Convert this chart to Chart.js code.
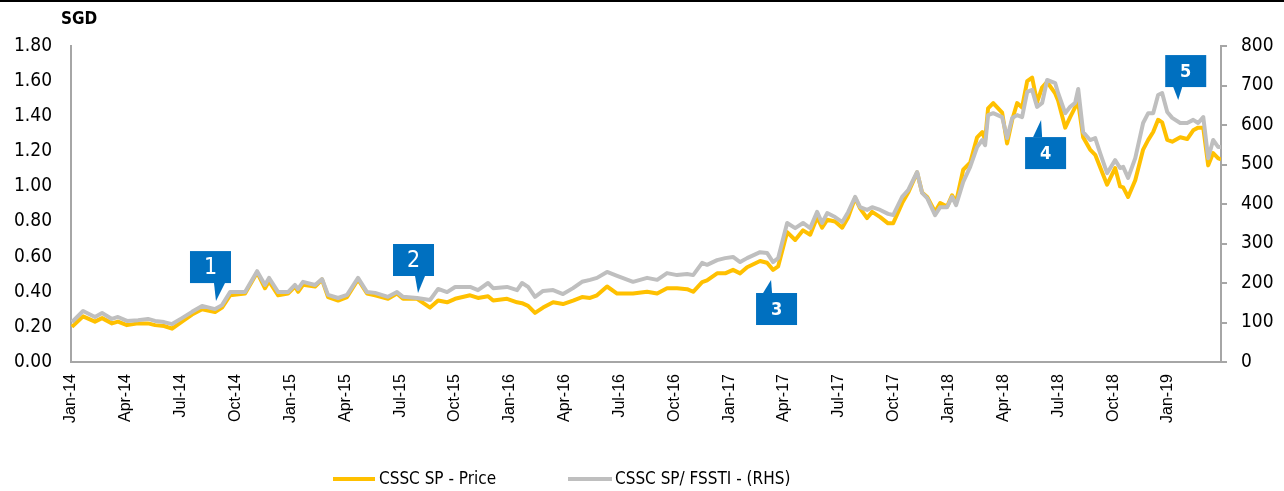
<!DOCTYPE html>
<html>
<head>
<meta charset="utf-8">
<script src="https://cdn.jsdelivr.net/npm/chart.js@4.4.1/dist/chart.umd.min.js"></script>
<style>
body{margin:0;background:#fff;}
#wrap{position:relative;width:1284px;height:491px;overflow:hidden;}
#topline{position:absolute;left:0;top:0;width:1284px;height:2px;background:#000;}
#sgd{position:absolute;left:61px;top:8px;font:bold 17px "DejaVu Sans Condensed","DejaVu Sans";color:#000;}
.ln{position:absolute;height:4px;top:477px;}
.lt{position:absolute;top:468px;font:17px "DejaVu Sans Condensed","DejaVu Sans";color:#000;line-height:20px;white-space:nowrap;}
</style>
</head>
<body>
<div id="wrap">
  <canvas id="myChart" width="1284" height="491"></canvas>
  <div id="topline"></div>
  <div id="sgd">SGD</div>
  <div class="ln" style="left:333px;width:42px;background:#FFC000"></div>
  <div class="lt" style="left:379px">CSSC SP - Price</div>
  <div class="ln" style="left:568px;width:44px;background:#BFBFBF"></div>
  <div class="lt" style="left:615px">CSSC SP/ FSSTI - (RHS)</div>
</div>
<script>
// x = months since Jan-14
var months = [0.05,0.66,1.31,1.70,2.24,2.57,3.06,3.67,4.21,4.60,5.09,5.53,6.07,6.62,7.17,7.88,8.26,8.70,9.52,10.18,
  10.61,10.83,11.33,11.87,12.25,12.42,12.69,13.35,13.73,14.06,14.61,15.10,15.70,16.19,16.63,17.34,17.83,18.16,18.93,19.64,
  20.08,20.57,21.01,21.83,22.26,22.81,23.09,23.85,24.40,24.67,25.00,25.38,25.82,26.37,26.91,27.46,27.95,28.39,28.77,29.32,
  29.87,30.74,31.51,32.06,32.60,33.15,33.70,34.03,34.52,34.79,35.34,35.78,36.21,36.60,36.98,37.69,38.07,38.40,38.68,39.17,
  39.61,40.04,40.43,40.81,41.08,41.36,41.79,42.18,42.51,42.89,43.16,43.54,43.82,44.26,44.69,44.97,45.46,45.79,46.28,46.55,
  46.83,47.26,47.54,47.92,48.19,48.41,48.80,49.18,49.56,49.84,50.00,50.16,50.44,50.93,51.20,51.48,51.75,52.02,52.30,52.57,
  52.84,53.12,53.39,53.83,53.99,54.38,54.65,54.92,55.09,55.36,55.74,56.02,56.29,56.67,57.11,57.38,57.55,57.82,58.21,58.64,
  58.92,59.19,59.46,59.68,59.96,60.23,60.67,61.05,61.38,61.65,61.93,62.20,62.47,62.75,62.90];
var price = [0.20,0.26,0.23,0.25,0.22,0.23,0.21,0.22,0.22,0.21,0.205,0.19,0.23,0.27,0.30,0.285,0.31,0.38,0.39,0.51,
  0.42,0.46,0.38,0.39,0.43,0.40,0.44,0.43,0.47,0.37,0.35,0.37,0.47,0.39,0.38,0.36,0.39,0.36,0.36,0.31,
  0.35,0.34,0.36,0.38,0.365,0.375,0.35,0.36,0.34,0.335,0.32,0.28,0.31,0.34,0.33,0.35,0.37,0.365,0.38,0.43,
  0.39,0.39,0.40,0.39,0.42,0.42,0.415,0.40,0.455,0.465,0.505,0.505,0.525,0.505,0.54,0.575,0.565,0.525,0.545,0.74,
  0.695,0.75,0.725,0.825,0.765,0.81,0.80,0.765,0.825,0.935,0.875,0.82,0.855,0.825,0.79,0.79,0.905,0.965,1.08,0.965,
  0.94,0.855,0.905,0.885,0.95,0.91,1.095,1.135,1.28,1.31,1.265,1.445,1.475,1.42,1.245,1.38,1.475,1.45,1.60,1.62,
  1.48,1.565,1.595,1.53,1.49,1.335,1.395,1.45,1.475,1.28,1.21,1.18,1.11,1.01,1.105,1.00,0.995,0.94,1.035,1.21,
  1.265,1.31,1.38,1.365,1.265,1.255,1.28,1.27,1.32,1.335,1.335,1.12,1.19,1.16,1.155];
var ratio = [101,129,114,124,109,114,104,106,109,104,101,96,111,127,142,134,144,177,177,230,
  195,213,177,177,195,185,203,195,210,170,162,170,213,177,175,165,177,165,162,157,
  185,177,190,190,182,200,187,190,182,200,190,165,180,182,172,187,203,208,213,228,
  218,203,213,208,225,220,223,220,251,246,258,263,266,253,263,278,276,253,263,352,
  339,352,339,380,352,377,367,354,380,418,392,385,392,385,375,372,418,435,481,428,
  415,372,392,392,418,397,456,494,544,562,549,625,630,620,567,618,625,620,684,689,
  646,656,714,706,681,630,646,656,691,582,562,567,529,478,511,491,494,466,516,605,
  630,630,676,681,633,618,605,605,613,605,620,516,562,544,544];
var tickLabels = ['Jan-14','Apr-14','Jul-14','Oct-14','Jan-15','Apr-15','Jul-15','Oct-15','Jan-16','Apr-16','Jul-16',
  'Oct-16','Jan-17','Apr-17','Jul-17','Oct-17','Jan-18','Apr-18','Jul-18','Oct-18','Jan-19'];
var seriesNames = ['CSSC SP - Price', 'CSSC SP/ FSSTI - (RHS)'];

// numbered callouts, anchored at (month, price)
var callouts = [
  {label:'1', month:7.93,  value:0.347, dx:-26, dy:-50, t0:-2, t1:9, bold:false},
  {label:'2', month:18.98, value:0.393, dx:-25, dy:-49, t0:-3, t1:7, bold:false},
  {label:'3', month:38.29, value:0.467, dx:-15, dy:13,  t0:-8, t1:1, bold:true},
  {label:'4', month:53.06, value:1.378, dx:-16, dy:17,  t0:-8, t1:1, bold:true},
  {label:'5', month:60.56, value:1.492, dx:-13, dy:-45, t0:-5, t1:4, bold:true}
];

var calloutPlugin = {
  id: 'callouts',
  afterDatasetsDraw: function(chart){
    var c = chart.ctx, sx = chart.scales.x, sy = chart.scales.y;
    var w = 41, h = 32;
    callouts.forEach(function(o){
      var ax = sx.getPixelForValue(o.month), ay = sy.getPixelForValue(o.value);
      var bx = ax + o.dx, by = ay + o.dy;
      var edge = o.dy < 0 ? by + h : by;
      c.save();
      c.fillStyle = '#0070C0';
      c.fillRect(bx, by, w, h);
      c.beginPath();
      c.moveTo(ax + o.t0, edge);
      c.lineTo(ax + o.t1, edge);
      c.lineTo(ax, ay);
      c.closePath();
      c.fill();
      c.fillStyle = '#fff';
      c.textAlign = 'center';
      c.textBaseline = 'middle';
      c.font = o.bold ? 'bold 18px "DejaVu Sans Condensed"' : '23px "DejaVu Sans Condensed"';
      c.fillText(o.label, bx + w / 2, by + h / 2 + 1);
      c.restore();
    });
  }
};

var ctx = document.getElementById('myChart').getContext('2d');
var chart = new Chart(ctx, {
  type: 'line',
  data: {
    datasets: [{
        label: seriesNames[0],
        data: months.map(function(m, i){ return {x: m, y: price[i]}; }),
        borderColor: '#FFC000',
        borderWidth: 4,
        yAxisID: 'y',
        order: 2
      }, {
        label: seriesNames[1],
        data: months.map(function(m, i){ return {x: m, y: ratio[i]}; }),
        borderColor: '#BFBFBF',
        borderWidth: 4,
        yAxisID: 'y2',
        order: 1
      }]
  },
  options: {
    responsive: false,
    animation: false,
    devicePixelRatio: 1,
    layout: { padding: { top: 46 } },
    elements: { point: { radius: 0 }, line: { tension: 0, borderJoinStyle: 'round' } },
    plugins: { legend: { display: false }, tooltip: { enabled: false } },
    scales: {
      x: {
        type: 'linear', min: 0, max: 62.9,
        afterFit: function(s){ s.height = 129; },
        grid: { display: false, drawTicks: false },
        border: { color: '#A6A6A6', width: 2 },
        ticks: {
          stepSize: 3, includeBounds: false, autoSkip: false,
          minRotation: 90, maxRotation: 90, padding: 12,
          color: '#000', font: { family: 'Liberation Sans', size: 16 },
          callback: function(v){ return tickLabels[Math.round(v / 3)]; }
        }
      },
      y: {
        position: 'left', min: 0, max: 1.8,
        afterFit: function(s){ s.width = 71; },
        grid: { display: false, drawTicks: false },
        border: { color: '#A6A6A6', width: 2 },
        ticks: {
          stepSize: 0.2, padding: 19, color: '#000',
          font: { family: 'DejaVu Sans Condensed', size: 19 },
          callback: function(v){ return v.toFixed(2); }
        }
      },
      y2: {
        position: 'right', min: 0, max: 800,
        afterFit: function(s){ s.width = 63; },
        grid: { drawOnChartArea: false, drawTicks: true, tickLength: 6, color: '#A6A6A6', lineWidth: 2 },
        border: { color: '#A6A6A6', width: 2 },
        ticks: {
          stepSize: 100, padding: 14, color: '#000',
          font: { family: 'DejaVu Sans Condensed', size: 19 }
        }
      }
    }
  },
  plugins: [calloutPlugin]
});
</script>
</body>
</html>
